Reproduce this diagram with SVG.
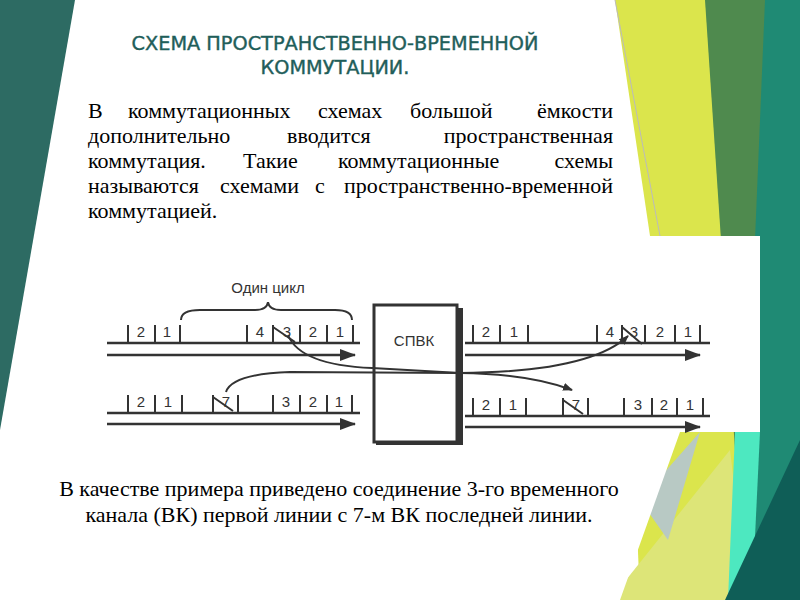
<svg xmlns="http://www.w3.org/2000/svg" width="800" height="600" viewBox="0 0 800 600">
<style>
.t{font-family:"DejaVu Sans",sans-serif;font-size:19.3px;fill:#1f5e5a;stroke:#1f5e5a;stroke-width:0.4;text-anchor:middle}
.b{font-family:"Liberation Serif","Times New Roman","DejaVu Serif",serif;font-size:22px;fill:#000}
.c{font-family:"Liberation Serif","Times New Roman","DejaVu Serif",serif;font-size:22px;fill:#000;text-anchor:middle}
.d{font-family:"Liberation Sans",Arial,sans-serif;font-size:15px;fill:#333;text-anchor:middle}
.l{stroke:#333;stroke-width:2.5;fill:none}
.k{stroke:#333;stroke-width:2;fill:none}
</style>
<defs>
<marker id="a" markerWidth="10" markerHeight="8" refX="9" refY="4" orient="auto" markerUnits="userSpaceOnUse"><path d="M0,0L10,4L0,8Z" fill="#333"/></marker>
<marker id="A" markerWidth="16" markerHeight="12" refX="15" refY="6" orient="auto" markerUnits="userSpaceOnUse"><path d="M0,0L16,6L0,12Z" fill="#333"/></marker>
</defs>
<rect width="800" height="600" fill="#fff"/>
<g id="decor">
<polygon points="0,0 75,0 0,430" fill="#2d6b63"/>
<polygon points="615,0 710,0 745,600 640,600" fill="#dbe54c"/>
<polygon points="705,0 790,0 790,600 745,600" fill="#4f8a4e"/>
<polygon points="765,0 800,0 800,600 740,600" fill="#1f8a74"/>
<polygon points="665,236 760,236 760,432 700,432" fill="#c9d94a"/>
<polygon points="610,600 730,450 748,600" fill="#dde578"/>
<polygon points="735,432 760,432 752,600 728,600" fill="#4de8c0"/>
<polygon points="800,440 800,600 725,600" fill="#0f5e57"/>
<polygon points="640,500 700,432 668,540" fill="#b8c9c4"/>
<rect x="85" y="236" width="675" height="196" fill="#fff"/>
<polygon points="85,0 615,0 650,236 85,236" fill="#fff"/>
<polygon points="85,432 680,432 620,600 85,600" fill="#fff"/>
<line x1="615" y1="0" x2="660" y2="236" stroke="#bbb" stroke-width="1"/>
</g>
<g id="title">
<text class="t" x="335" y="50">СХЕМА ПРОСТРАНСТВЕННО-ВРЕМЕННОЙ</text>
<text class="t" x="335" y="74">КОММУТАЦИИ.</text>
</g>
<g id="body" class="b">
<text y="118"><tspan x="88">В</tspan><tspan x="128">коммутационных</tspan><tspan x="318">схемах</tspan><tspan x="410">большой</tspan><tspan x="613" text-anchor="end">ёмкости</tspan></text>
<text y="143"><tspan x="88">дополнительно</tspan><tspan x="287">вводится</tspan><tspan x="613" text-anchor="end">пространственная</tspan></text>
<text y="168"><tspan x="88">коммутация.</tspan><tspan x="243">Такие</tspan><tspan x="338">коммутационные</tspan><tspan x="613" text-anchor="end">схемы</tspan></text>
<text y="193"><tspan x="88">называются</tspan><tspan x="220">схемами</tspan><tspan x="315">с</tspan><tspan x="613" text-anchor="end">пространственно-временной</tspan></text>
<text y="218" x="88">коммутацией.</text>
</g>
<g id="caption">
<text class="c" x="339" y="496">В качестве примера приведено соединение 3-го временного</text>
<text class="c" x="339" y="522">канала (ВК) первой линии с 7-м ВК последней линии.</text>
</g>
<g id="spvk">
<rect x="374" y="305" width="83" height="137" fill="#fff" stroke="#333" stroke-width="3"/>
<rect x="457" y="308" width="6" height="137" fill="#333"/>
<rect x="376" y="441" width="87" height="4" fill="#333"/>
<text class="d" x="414" y="346" font-size="17">СПВК</text>
</g>
<g id="lines">
<path class="l" d="M107,343H360M107,355H355" marker-end="url(#A)"/>
<path class="l" d="M107,413H360M107,424H355" marker-end="url(#A)"/>
<path class="l" d="M465,343H710M465,355H700" marker-end="url(#A)"/>
<path class="l" d="M465,416H710M465,427H700" marker-end="url(#A)"/>
<path class="k" d="M128,343V325M155,343V325M180,343V325M247,343V325M273,343V325M300,343V325M327,343V325M353,343V325"/>
<path class="k" d="M128,413V395M155,413V395M182,413V395M213,413V395M238,413V395M273,413V395M300,413V395M327,413V395M352,413V395"/>
<path class="k" d="M473,343V325M500,343V325M528,343V325M597,343V325M622,343V325M645,343V325M675,343V325M700,343V325"/>
<path class="k" d="M473,416V398M500,416V398M526,416V398M563,416V398M588,416V398M624,416V398M652,416V398M677,416V398M703,416V398"/>
<path class="k" d="M273,327L295,342M213,397L233,411M622,327L642,344M563,400L583,414"/>
<path class="k" d="M181,320Q181,310 200,310H255Q267,310 268,302Q269,310 281,310H335Q352,310 352,320"/>
<text class="d" x="268" y="293">Один цикл</text>
<text class="d" x="141" y="337">2</text><text class="d" x="167" y="337">1</text>
<text class="d" x="260" y="337">4</text><text class="d" x="287" y="337">3</text><text class="d" x="313" y="337">2</text><text class="d" x="340" y="337">1</text>
<text class="d" x="141" y="407">2</text><text class="d" x="168" y="407">1</text><text class="d" x="226" y="407">7</text>
<text class="d" x="286" y="407">3</text><text class="d" x="313" y="407">2</text><text class="d" x="339" y="407">1</text>
<text class="d" x="486" y="337">2</text><text class="d" x="514" y="337">1</text>
<text class="d" x="610" y="337">4</text><text class="d" x="634" y="337">3</text><text class="d" x="660" y="337">2</text><text class="d" x="688" y="337">1</text>
<text class="d" x="486" y="410">2</text><text class="d" x="513" y="410">1</text><text class="d" x="576" y="410">7</text>
<text class="d" x="638" y="410">3</text><text class="d" x="664" y="410">2</text><text class="d" x="690" y="410">1</text>
</g>
<g id="connectors">
<path class="k" d="M288,335Q300,365 372,368L460,373Q530,374 572,390" marker-end="url(#a)"/>
<path class="k" d="M226,392Q232,374 290,372L460,373Q590,372 628,336" marker-end="url(#a)"/>
</g>
</svg>
